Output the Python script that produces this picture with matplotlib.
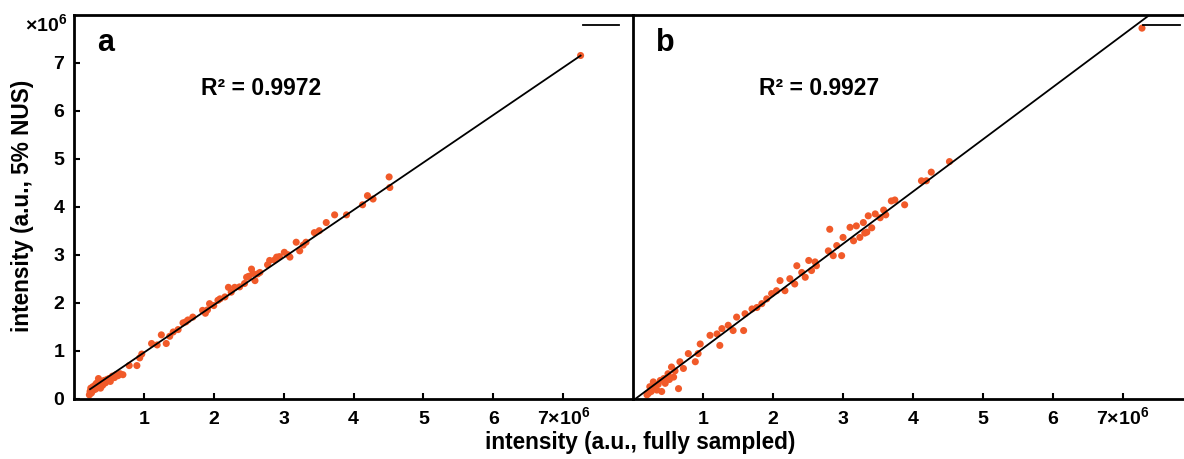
import numpy as np
import matplotlib
matplotlib.use('Agg')
import matplotlib.pyplot as plt
from matplotlib.lines import Line2D

plt.rcParams['font.family'] = ['Liberation Sans', 'DejaVu Sans']
plt.rcParams['font.weight'] = 'bold'
plt.rcParams['mathtext.fontset'] = 'custom'
plt.rcParams['mathtext.rm'] = 'Liberation Sans:bold'
plt.rcParams['mathtext.it'] = 'Liberation Sans:bold'
plt.rcParams['mathtext.bf'] = 'Liberation Sans:bold'

# intensities in units of 1e6
xa = [0.22, 0.23, 0.24, 0.25, 0.27, 0.28, 0.30, 0.31, 0.32, 0.34, 0.35, 0.36, 0.38, 0.40,
      0.41, 0.43, 0.45, 0.47, 0.50, 0.52, 0.55, 0.58, 0.60, 0.63, 0.66, 0.70, 0.79, 0.90,
      0.94, 0.97, 1.11, 1.19, 1.25, 1.32, 1.37, 1.42, 1.49, 1.56, 1.60, 1.63, 1.70, 1.84,
      1.88, 1.91, 1.94, 2.00, 2.06, 2.09, 2.16, 2.21, 2.25, 2.30, 2.37, 2.44, 2.47, 2.50,
      2.54, 2.56, 2.59, 2.63, 2.66, 2.77, 2.80, 2.87, 2.90, 2.94, 3.01, 3.06, 3.09, 3.18,
      3.23, 3.28, 3.32, 3.44, 3.51, 3.61, 3.73, 3.90, 4.13, 4.20, 4.28, 4.51, 4.52, 7.25]
ya = [0.08, 0.15, 0.22, 0.12, 0.25, 0.18, 0.28, 0.20, 0.32, 0.25, 0.42, 0.30, 0.22, 0.35,
      0.28, 0.38, 0.33, 0.40, 0.42, 0.36, 0.47, 0.44, 0.50, 0.48, 0.52, 0.50, 0.69, 0.69,
      0.85, 0.93, 1.15, 1.12, 1.33, 1.15, 1.30, 1.39, 1.44, 1.58, 1.60, 1.64, 1.70, 1.84,
      1.78, 1.85, 1.98, 1.94, 2.05, 2.08, 2.12, 2.32, 2.22, 2.32, 2.33, 2.40, 2.53, 2.55,
      2.70, 2.61, 2.46, 2.60, 2.63, 2.79, 2.88, 2.89, 2.95, 2.96, 3.05, 3.00, 2.95, 3.26,
      3.08, 3.20, 3.26, 3.46, 3.50, 3.67, 3.83, 3.83, 4.04, 4.23, 4.16, 4.62, 4.40, 7.15]

xb = [0.20, 0.22, 0.24, 0.26, 0.29, 0.31, 0.34, 0.36, 0.39, 0.41, 0.44, 0.46, 0.50, 0.52,
      0.55, 0.58, 0.60, 0.65, 0.67, 0.72, 0.79, 0.89, 0.93, 0.96, 1.10, 1.20, 1.24, 1.27,
      1.36, 1.43, 1.48, 1.58, 1.60, 1.70, 1.77, 1.84, 1.91, 1.98, 2.05, 2.10, 2.17, 2.24,
      2.31, 2.34, 2.41, 2.46, 2.51, 2.55, 2.60, 2.62, 2.79, 2.81, 2.86, 2.91, 2.98, 3.00,
      3.10, 3.15, 3.19, 3.24, 3.29, 3.31, 3.34, 3.36, 3.41, 3.46, 3.53, 3.58, 3.61, 3.69,
      3.74, 3.88, 4.12, 4.19, 4.26, 4.52, 7.27]
yb = [0.08, 0.11, 0.25, 0.15, 0.35, 0.22, 0.18, 0.30, 0.38, 0.15, 0.42, 0.32, 0.52, 0.40,
      0.66, 0.45, 0.58, 0.21, 0.77, 0.63, 0.94, 0.77, 0.94, 1.14, 1.32, 1.35, 1.11, 1.46,
      1.53, 1.42, 1.70, 1.42, 1.77, 1.87, 1.90, 1.98, 2.08, 2.19, 2.25, 2.46, 2.25, 2.50,
      2.39, 2.77, 2.63, 2.53, 2.88, 2.67, 2.85, 2.77, 3.08, 3.53, 2.98, 3.19, 2.98, 3.36,
      3.57, 3.29, 3.60, 3.36, 3.67, 3.45, 3.47, 3.81, 3.56, 3.85, 3.77, 3.93, 3.83, 4.12,
      4.14, 4.04, 4.54, 4.54, 4.72, 4.94, 7.72]

# linear fits (slope, intercept, x start, x end)
fit_a = (0.99, -0.03, 0.23, 7.25)
fit_b = (1.089, -0.04, 0.0, 7.6)
r2 = ['R\u00b2 = 0.9972', 'R\u00b2 = 0.9927']
panels = ['a', 'b']
ticks = [1, 2, 3, 4, 5, 6, 7]
ticklabels = ['1', '2', '3', '4', '5', '6', '7\u00d710$^6$']
yticks = [0, 1, 2, 3, 4, 5, 6, 7]

dot = '#f15a29'
W, H = 1184, 459
fig = plt.figure(figsize=(W / 100, H / 100), dpi=100)
axa = fig.add_axes([74 / W, 60.3 / H, 559 / W, 384 / H])
axb = fig.add_axes([633 / W, 60.3 / H, 551 / W, 384 / H])

for ax, xs, ys, fit, txt, lab, xmax in [(axa, xa, ya, fit_a, r2[0], panels[0], 8.0),
                                        (axb, xb, yb, fit_b, r2[1], panels[1], 7.87)]:
    ax.scatter(xs, ys, s=26, color=dot, edgecolors='none', zorder=2)
    fx = np.array([fit[2], fit[3]])
    ax.plot(fx, fit[0] * fx + fit[1], color='black', lw=1.3, zorder=3)
    ax.set_xlim(0, xmax)
    ax.set_ylim(0, 8)
    ax.set_xticks(ticks)
    ax.set_xticklabels(ticklabels)
    ax.tick_params(direction='in', length=4, width=1.5, labelsize=14, pad=7)
    ax.tick_params(axis='x', pad=18)
    plt.setp(ax.get_xticklabels(), va='baseline')
    for sp in ax.spines.values():
        sp.set_linewidth(2)
    ax.spines['right'].set_visible(False)
    ax.text(0.041, 0.926, lab, transform=ax.transAxes, fontsize=22,
            fontweight='bold', ha='left', va='center')
    ax.text(0.228, 0.809, txt, transform=ax.transAxes, fontsize=16.5,
            fontweight='bold', ha='left', va='center')
    leg_x = 0.975 if ax is axa else 0.992
    ax.legend([Line2D([0], [0], color='black', lw=1.3)], [''], loc='center right',
              bbox_to_anchor=(leg_x, 0.969), frameon=False, handlelength=2.0,
              handletextpad=0, borderpad=0, borderaxespad=0, fontsize=13)

axa.set_yticks(yticks)
axb.set_yticks([])
axb.spines['left'].set_zorder(5)

fig.text(67 / W, 1 - 24 / H, '\u00d710$^6$', fontsize=14, fontweight='bold',
         ha='right', va='center')
fig.text(23 / W, 1 - 206 / H, 'intensity (a.u., 5% NUS)', fontsize=16.3,
         fontweight='bold', rotation=90, ha='center', va='center')
fig.text(640 / W, 1 - 442 / H, 'intensity (a.u., fully sampled)', fontsize=16.3,
         fontweight='bold', ha='center', va='center')

fig.savefig('out.png', dpi=100)
